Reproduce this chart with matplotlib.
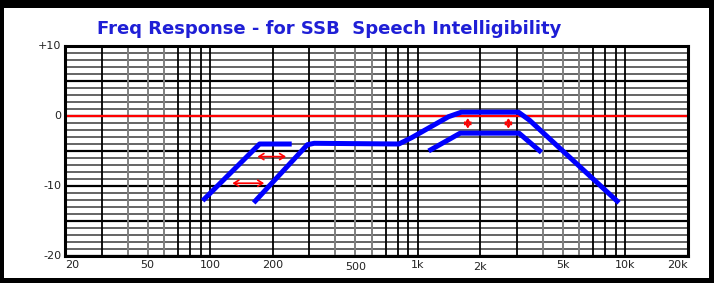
import numpy as np
import matplotlib
matplotlib.use("Agg")
import matplotlib.pyplot as plt
from matplotlib.patches import Rectangle

# curve values (Hz, dB)
freq_a = [92, 173, 247]
db_a = [-12.1, -4.0, -4.0]

freq_b = [162, 294, 317, 810, 933, 1406, 1622, 3050, 3450, 9300]
db_b = [-12.4, -4.1, -3.9, -4.0, -3.1, -0.1, 0.55, 0.55, -0.6, -12.4]

freq_c = [1127, 1600, 3070, 3940]
db_c = [-5.0, -2.45, -2.45, -5.2]

# red arrows
h_arrow_from = [169, 128]
h_arrow_to = [232, 182]
h_arrow_db = [-5.8, -9.6]
v_arrow_freq = [1740, 2730]
v_arrow_top = [-0.3, -0.3]
v_arrow_bottom = [-1.8, -1.8]

xtick_vals = [20, 50, 100, 200, 500, 1000, 2000, 5000, 10000, 20000]
xtick_labels = ["20", "50", "100", "200", "500", "1k", "2k", "5k", "10k", "20k"]
ytick_vals = [10, 0, -10, -20]
ytick_labels = ["+10", "0", "-10", "-20"]

fig = plt.figure(figsize=(7.14, 2.83), dpi=100, facecolor="black")
fig.patches.append(Rectangle((4 / 714, 5 / 283), 705 / 714, 270 / 283,
                             transform=fig.transFigure, facecolor="white",
                             edgecolor="none", zorder=-10))

ax = fig.add_axes([65 / 714, 27 / 283, 623 / 714, 210 / 283])
ax.set_zorder(1)
ax.set_xscale("log")
ax.set_xlim(20, 20000)
ax.set_ylim(-20, 10)
ax.set_facecolor("white")

# horizontal grid, 1 dB steps
for d in range(-20, 11):
    if d % 5 == 0:
        ax.axhline(d, color="black", lw=1.6, zorder=1)
    else:
        ax.axhline(d, color="#4a4a4a", lw=1.2, zorder=1)

# vertical grid, log decades
for dec in [10, 100, 1000, 10000]:
    for m in range(1, 10):
        f = dec * m
        if f <= 20 or f >= 20000:
            continue
        if m in (4, 5, 6):
            ax.axvline(f, color="#808080", lw=1.4, zorder=1)
        else:
            ax.axvline(f, color="black", lw=1.3, zorder=1)

ax.axhline(0, color="red", lw=1.6, zorder=2)

for fx, dy in [(freq_a, db_a), (freq_b, db_b), (freq_c, db_c)]:
    ax.plot(fx, dy, color="blue", lw=3.6, solid_capstyle="butt",
            solid_joinstyle="round", zorder=4)

astyle = dict(arrowstyle="<->,head_length=0.35,head_width=0.22", color="red", lw=1.2,
              shrinkA=0, shrinkB=0)
for f0, f1, d in zip(h_arrow_from, h_arrow_to, h_arrow_db):
    ax.annotate("", xy=(f1, d), xytext=(f0, d), arrowprops=astyle, zorder=5)
for f, d0, d1 in zip(v_arrow_freq, v_arrow_top, v_arrow_bottom):
    ax.annotate("", xy=(f, d1), xytext=(f, d0), arrowprops=astyle, zorder=5)

ax.set_xticks([])
ax.set_yticks([])
ax.minorticks_off()
for s in ax.spines.values():
    s.set_linewidth(2.2)
    s.set_color("black")
    s.set_zorder(6)

for v, lab in zip(xtick_vals, xtick_labels):
    dy = -0.05 if lab in ("500", "2k") else -0.043
    ha = "center"
    if v == 20:
        ha = "left"
    elif v == 20000:
        ha = "right"
    ax.text(v, dy, lab, transform=ax.get_xaxis_transform(), ha=ha, va="center",
            fontsize=8, color="#222222")
for v, lab in zip(ytick_vals, ytick_labels):
    ax.text(-0.006, v, lab, transform=ax.get_yaxis_transform(), ha="right",
            va="center", fontsize=8, color="#222222")

fig.text(329 / 714, 1 - 29 / 283, "Freq Response - for SSB  Speech Intelligibility",
         ha="center", va="center", fontsize=13, fontweight="bold", color="#1f1fd6")

fig.savefig("out.png", dpi=100, facecolor="black")
